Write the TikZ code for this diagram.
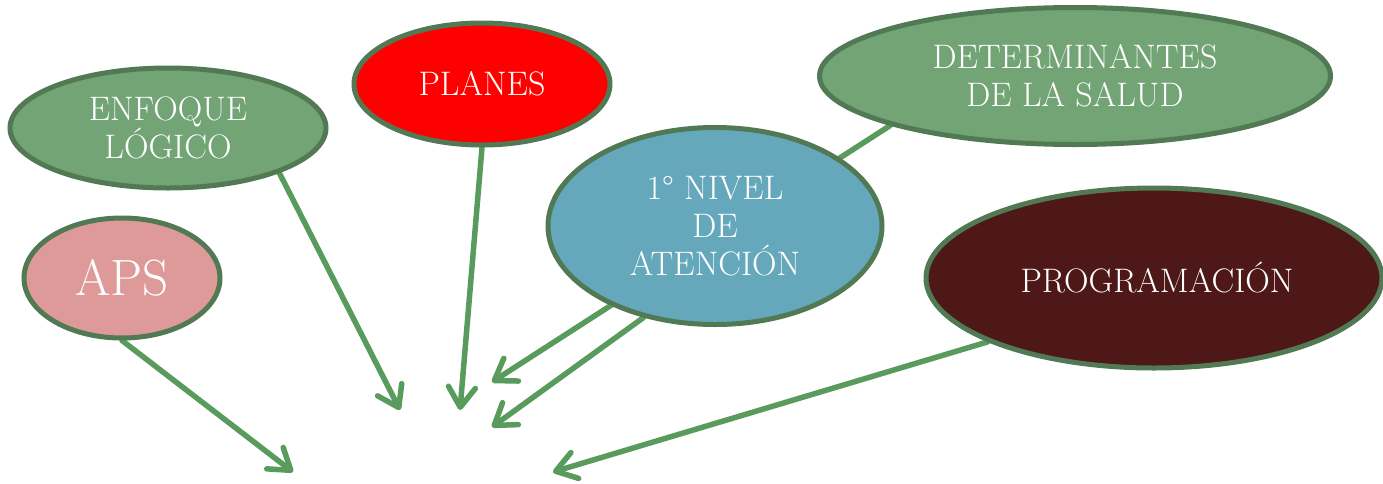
\documentclass[tikz,border=0pt]{standalone}
\usepackage{fontspec}
\usetikzlibrary{arrows.meta,shapes.geometric,backgrounds}
\definecolor{rim}{HTML}{517A54}
\definecolor{leaf}{HTML}{72A476}
\definecolor{sky}{HTML}{66A8BB}
\definecolor{rose}{HTML}{DE9999}
\definecolor{wine}{HTML}{4E1818}
\definecolor{arrowgreen}{HTML}{589B5D}
\begin{document}
\begin{tikzpicture}[x=1pt, y=-1pt,
    bubble/.style={ellipse, draw=rim, line width=5pt, inner sep=0pt,
      text=white, align=center, font=\fontsize{34}{38}\selectfont},
    pointer/.style={draw=arrowgreen, line width=5.5pt, line cap=round,
      -{Straight Barb[length=20pt,width=27pt,line cap=round,line join=round]}}]
  \useasboundingbox (0,0) rectangle (1383,483);

  \node[bubble, fill=rose, minimum width=196pt, minimum height=120pt,
    font=\fontsize{51}{54}\selectfont] (aps) at (122,278) {APS};
  \node[bubble, fill=leaf, minimum width=316pt, minimum height=120pt]
    (enfoque) at (168,128) {ENFOQUE\\LÓGICO};
  \node[bubble, fill=red, minimum width=256pt, minimum height=122pt]
    (planes) at (482,84) {PLANES};
  \node[bubble, fill=leaf, minimum width=511pt, minimum height=137pt]
    (determinantes) at (1075,76) {DETERMINANTES\\DE LA SALUD};
  \node[bubble, fill=sky, minimum width=334pt, minimum height=197pt]
    (nivel) at (715,226) {1° NIVEL\\DE\\ATENCIÓN};
  \node[bubble, fill=wine, minimum width=456pt, minimum height=180pt]
    (programacion) at (1154,278) {\hspace*{6pt}PROGRAMACIÓN};

  \coordinate (tipaps) at (293,472);
  \coordinate (tipenfoque) at (400,410);
  \coordinate (tipplanes) at (460,410);
  \coordinate (tipdeterminantes) at (492,382);
  \coordinate (tipnivel) at (492,427);
  \coordinate (tipprogramacion) at (553,472);

  \begin{scope}[on background layer]
    \draw[pointer] (aps.south) -- (tipaps);
    \draw[pointer] (enfoque.-22) -- (tipenfoque);
    \draw[pointer] (planes.south) -- (tipplanes);
    \draw[pointer] (determinantes.195.6) -- (tipdeterminantes);
    \draw[pointer] (nivel.-128) -- (tipnivel);
    \draw[pointer] (programacion.201.7) -- (tipprogramacion);
  \end{scope}
\end{tikzpicture}
\end{document}
